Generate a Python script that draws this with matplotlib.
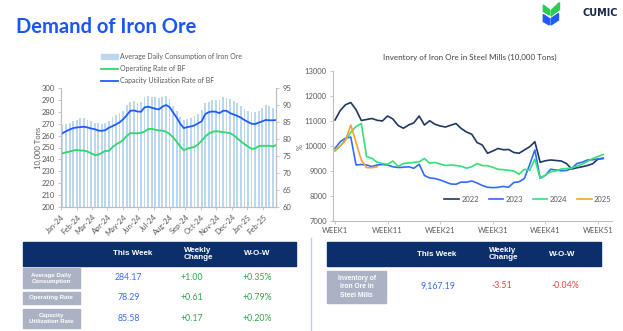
import numpy as np
import pandas as pd
import matplotlib
matplotlib.use('Agg')
import matplotlib.pyplot as plt
from matplotlib.patches import Rectangle, Polygon, Patch
from matplotlib.lines import Line2D

W, H = 623, 331

# ---- left chart: weekly demand data ----
weeks = pd.date_range('2024-01-04', periods=61, freq='7D')
consumption = [269, 270, 271, 272.5, 273, 274.5, 274.5, 273.5, 272.5, 271,
               270.3, 270, 270.5, 272.5, 275.5, 277, 279, 280.5, 285.5, 288.5,
               289, 287.5, 288, 292.5, 293, 292.5, 292.5, 292, 292.7, 293,
               290.5, 285, 281, 276, 273.5, 274, 275, 276.5, 278, 281.5,
               287.5, 288.5, 290, 289.5, 290, 292.5, 292, 290.5, 289, 287,
               284.5, 282, 280.5, 280, 280, 281, 283, 285.5, 284.5, 283.5,
               284.17]
operating = [75.8, 76.1, 76.3, 76.6, 76.8, 76.6, 76.6, 76.3, 75.8, 75.3,
             75.4, 75.9, 76.5, 76.5, 77.6, 78.4, 79.0, 79.7, 80.9, 81.7,
             81.7, 81.7, 81.8, 82.2, 82.9, 83.0, 82.7, 82.5, 82.5, 82.1,
             81.5, 80.5, 79.2, 77.8, 76.7, 77.2, 77.4, 77.7, 78.4, 79.5,
             80.7, 81.6, 82.1, 82.3, 82.2, 82.0, 81.9, 81.7, 81.1, 80.2,
             79.3, 78.5, 77.8, 77.1, 77.2, 77.9, 78.0, 78.0, 78.0, 77.8,
             78.29]
capacity = [81.7, 82.3, 82.8, 83.2, 83.4, 83.5, 83.6, 83.4, 83.1, 82.9,
            82.5, 82.4, 82.6, 83.3, 83.8, 84.3, 84.9, 85.8, 87.0, 88.3,
            88.4, 88.1, 88.0, 89.3, 89.5, 89.2, 88.9, 88.7, 89.5, 90.0,
            89.4, 87.8, 86.3, 84.5, 83.2, 83.5, 83.7, 84.0, 84.6, 85.2,
            87.3, 87.9, 88.1, 88.0, 87.6, 88.3, 88.3, 87.6, 87.2, 86.8,
            86.3, 85.6, 85.0, 84.5, 84.4, 84.8, 85.2, 85.6, 85.5, 85.5,
            85.58]
month_ticks = pd.date_range('2024-01-01', '2025-02-01', freq='MS')

# ---- right chart: inventory by week ----
inv_weeks = np.arange(1, 53)
inv_2022 = [11040, 11420, 11650, 11740, 11450, 11020, 11060, 11100, 11030, 11000,
            11200, 11080, 10820, 10710, 10840, 10930, 11200, 10840, 11010, 10870,
            10800, 10760, 10830, 10900, 10700, 10560, 10470, 10140, 10040, 9710,
            9800, 9900, 9850, 9860, 9740, 9710, 9840, 9970, 10170, 9350,
            9410, 9440, 9420, 9400, 9300, 9080, 9130, 9170, 9220, 9290,
            9480, 9510]
inv_2023 = [9910, 10170, 10310, 10360, 9240, 9260, 9240, 9180, 9240, 9260,
            9240, 9170, 9140, 9150, 9170, 9110, 9270, 8820, 8720, 8700,
            8640, 8560, 8480, 8470, 8560, 8550, 8600, 8520, 8420, 8350,
            8335, 8345, 8385, 8350, 8540, 8570, 8700, 9250, 9840, 8710,
            8830, 9070, 9040, 9010, 9020, 9100, 9300, 9350, 9440, 9450,
            9480, 9500]
inv_2024 = [9800, 10000, 10240, 10550, 10780, 10900, 9570, 9510, 9350, 9300,
            9270, 9400, 9180, 9300, 9320, 9345, 9370, 9500, 9310, 9340,
            9280, 9220, 9240, 9220, 9190, 9110, 9170, 9300, 9220, 9210,
            9150, 9070, 9055, 9030, 9000, 8870, 9070, 9030, 9480, 8710,
            8840, 8970, 9000, 9080, 9100, 9120, 9200, 9270, 9390, 9500,
            9580, 9660]
weeks_2025 = np.arange(1, 10)
inv_2025 = [9840, 10000, 10230, 10840, 10140, 9440, 9133, 9133, 9167.19]
week_ticks = [1, 11, 21, 31, 41, 51]

# ---- tables ----
table_cols = ['This Week', 'Weekly\nChange', 'W-O-W']
demand_rows = ['Average Daily\nConsumption', 'Operating Rate', 'Capacity\nUtilization Rate']
demand_this = ['284.17', '78.29', '85.58']
demand_chg = ['+1.00', '+0.61', '+0.17']
demand_wow = ['+0.35%', '+0.79%', '+0.20%']
inv_row = 'Inventory of\nIron Ore in\nSteel Mills'
inv_this, inv_chg, inv_wow = '9,167.19', '-3.51', '-0.04%'

# colours
c_bar = '#bdd7ee'
c_green = '#2ed86a'
c_blue = '#1f5cff'
c_tick = '#595959'
c_spine = '#bfbfbf'
c_navy = '#0b2f6b'
c_label = '#aab2c4'
year_colors = {'2022': '#1f3864', '2023': '#2f6bff', '2024': '#33e07a', '2025': '#f7a134'}

plt.rcParams['font.family'] = ['Lato', 'DejaVu Sans']

fig = plt.figure(figsize=(W / 100, H / 100), dpi=100)


def px_axes(l, t, r, b):
    return fig.add_axes([l / W, 1 - b / H, (r - l) / W, (b - t) / H])


bg = px_axes(0, 0, W, H)
bg.set_xlim(0, W)
bg.set_ylim(H, 0)
bg.axis('off')

# title + logo
bg.text(16, 27, 'Demand of Iron Ore', color='#1a56ff', fontsize=14.5,
        fontweight='bold', va='center', ha='left')
bg.add_patch(Polygon([(543.3, 5), (549.3, 9.5), (549.3, 15), (543.3, 11.5)], color='#2ecc55'))
bg.add_patch(Polygon([(551, 10.5), (559.5, 2.5), (559.5, 9.5), (551, 16)], color='#2ecc55'))
bg.add_patch(Polygon([(543.3, 14.5), (549.3, 18.5), (549.3, 25), (543.3, 21.5)], color='#1f5cff'))
bg.add_patch(Polygon([(551, 18.5), (558.5, 13.5), (558.5, 20), (551, 25)], color='#1f5cff'))
bg.text(600, 13, 'CUMIC', color='#1b2a4a', fontsize=7, fontweight='bold',
        family='DejaVu Sans', ha='center', va='center')

# ---- left chart ----
ax1 = px_axes(61, 88, 276, 207)
ax1.bar(weeks, consumption, width=3.5, color=c_bar, zorder=1)
ax1.set_ylim(200, 300)
ax1.set_yticks(range(200, 301, 10))
ax1.set_xlim(pd.Timestamp('2024-01-01'), pd.Timestamp('2025-02-26'))
ax1.set_xticks(month_ticks)
ax1.set_xticklabels([d.strftime('%b-%y') for d in month_ticks], rotation=45,
                    ha='right', rotation_mode='anchor')
ax2 = ax1.twinx()
ax2.plot(weeks, operating, color=c_green, lw=1.3)
ax2.plot(weeks, capacity, color=c_blue, lw=1.3)
ax2.set_ylim(60, 95)
ax2.set_yticks(range(60, 96, 5))
for a in (ax1, ax2):
    a.spines['top'].set_visible(False)
    for s in ('left', 'right', 'bottom'):
        a.spines[s].set_color(c_spine)
        a.spines[s].set_linewidth(0.8)
    a.tick_params(labelsize=5.5, colors=c_tick, length=2.5, width=0.6, pad=2)
    a.tick_params(axis='both', color=c_spine)
bg.text(38, 148, '10,000 Tons', rotation=90, fontsize=5.5, color=c_tick, ha='center', va='center')
bg.text(297, 147, '%', rotation=-90, fontsize=5.5, color=c_tick, ha='center', va='center')

handles = [Patch(color=c_bar), Line2D([], [], color=c_green, lw=1.3), Line2D([], [], color=c_blue, lw=1.3)]
labels = ['Average Daily Consumption of Iron Ore', 'Operating Rate of BF', 'Capacity Utilization Rate of BF']
fig.legend(handles, labels, loc='upper left', bbox_to_anchor=(101 / W, 1 - 53 / H), frameon=False,
           fontsize=5, labelcolor=c_tick, handlelength=2.4, handleheight=0.6,
           labelspacing=0.75, handletextpad=0.3, borderpad=0, borderaxespad=0)

# ---- right chart ----
ax3 = px_axes(333, 71, 612, 221)
ax3.plot(inv_weeks, inv_2022, color=year_colors['2022'], lw=1.2, label='2022')
ax3.plot(inv_weeks, inv_2023, color=year_colors['2023'], lw=1.2, label='2023')
ax3.plot(inv_weeks, inv_2024, color=year_colors['2024'], lw=1.2, label='2024')
ax3.plot(weeks_2025, inv_2025, color=year_colors['2025'], lw=1.2, label='2025')
ax3.set_xlim(0.62, 53.66)
ax3.set_ylim(7000, 13000)
ax3.set_yticks(range(7000, 13001, 1000))
ax3.set_xticks(week_ticks)
ax3.set_xticklabels(['WEEK%d' % w for w in week_ticks])
for s in ('top', 'right'):
    ax3.spines[s].set_visible(False)
for s in ('left', 'bottom'):
    ax3.spines[s].set_color(c_spine)
    ax3.spines[s].set_linewidth(0.8)
ax3.tick_params(labelsize=5.5, colors=c_tick, length=2.5, width=0.6, pad=2)
ax3.tick_params(axis='both', color=c_spine)
ax3.legend(loc='center', bbox_to_anchor=((528 - 333) / 279, (221 - 199) / 150), ncol=4,
           frameon=False, fontsize=5.5, labelcolor=c_tick, handlelength=1.9,
           columnspacing=1.3, handletextpad=0.3, borderpad=0)
bg.text(470, 57, 'Inventory of Iron Ore in Steel Mills (10,000 Tons)', fontsize=5.8,
        color='#404040', ha='center', va='center')

# divider
bg.plot([311, 311], [238, 331], color='#c5cede', lw=1)

# ---- tables ----
tfont = 'Liberation Sans'


def header(x0, x1, y0, y1, col_x):
    bg.add_patch(Rectangle((x0, y0), x1 - x0, y1 - y0, color=c_navy))
    for cx, txt in zip(col_x, table_cols):
        bg.text(cx, (y0 + y1) / 2, txt, color='white', fontsize=5.8, fontweight='bold',
                family=tfont, ha='center', va='center', linespacing=1.0)


header(22.7, 296, 241.7, 265.7, [132.7, 198, 257])
row_y = [(268, 288), (292, 303.5), (309, 328)]
for (y0, y1), name, v1, v2, v3 in zip(row_y, demand_rows, demand_this, demand_chg, demand_wow):
    bg.add_patch(Rectangle((22.7, y0), 57.3, y1 - y0, color=c_label))
    yc = (y0 + y1) / 2
    bg.text(51.3, yc, name, color='white', fontsize=4.4, fontweight='bold', family=tfont,
            ha='center', va='center', linespacing=1.25)
    bg.text(128.7, yc, v1, color='#3b6cf0', fontsize=6.3, ha='center', va='center')
    bg.text(192, yc, v2, color='#2aa84a', fontsize=6.3, ha='center', va='center')
    bg.text(257, yc, v3, color='#2aa84a', fontsize=6.3, ha='center', va='center')

header(327, 601, 242, 266, [436.7, 503, 562])
bg.add_patch(Rectangle((327, 271), 59, 32, color=c_label))
bg.text(356.5, 287, inv_row, color='white', fontsize=4.8, fontweight='bold', family=tfont,
        ha='center', va='center', linespacing=1.25)
bg.text(438, 286, inv_this, color='#3b6cf0', fontsize=6.3, ha='center', va='center')
bg.text(502, 286, inv_chg, color='#e84040', fontsize=6.3, ha='center', va='center')
bg.text(565, 286, inv_wow, color='#e84040', fontsize=6.3, ha='center', va='center')

fig.savefig('out.png', dpi=100)
